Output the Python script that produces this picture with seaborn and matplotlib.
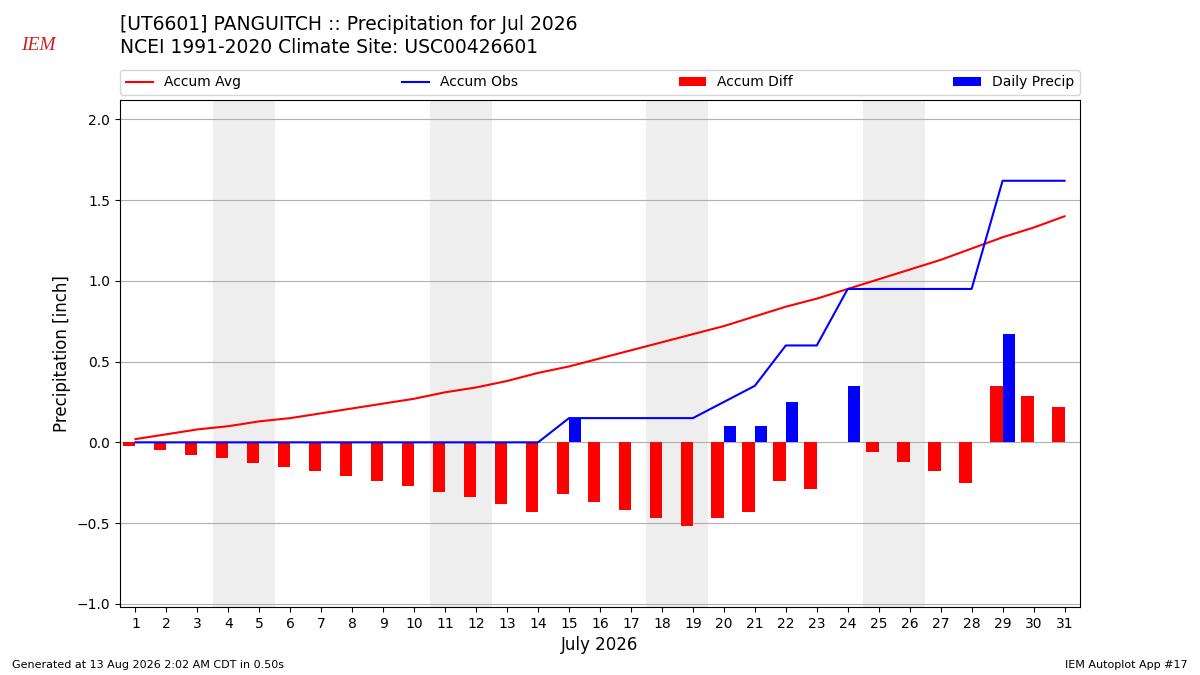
# Panguitch July 2026 precipitation chart
import numpy as np
import pandas as pd
import matplotlib
matplotlib.use("Agg")
import matplotlib.pyplot as plt
import seaborn as sns

# ==========================================
# Data
# ==========================================
days = list(range(1, 32))

accum_avg = [0.02, 0.05, 0.08, 0.10, 0.13, 0.15, 0.18, 0.21, 0.24, 0.27,
             0.31, 0.34, 0.38, 0.43, 0.47, 0.52, 0.57, 0.62, 0.67, 0.72,
             0.78, 0.84, 0.89, 0.95, 1.01, 1.07, 1.13, 1.20, 1.27, 1.33, 1.40]

accum_obs = [0.0, 0.0, 0.0, 0.0, 0.0, 0.0, 0.0, 0.0, 0.0, 0.0,
             0.0, 0.0, 0.0, 0.0, 0.15, 0.15, 0.15, 0.15, 0.15, 0.25,
             0.35, 0.60, 0.60, 0.95, 0.95, 0.95, 0.95, 0.95, 1.62, 1.62, 1.62]

accum_diff = [-0.02, -0.05, -0.08, -0.10, -0.13, -0.15, -0.18, -0.21, -0.24, -0.27,
              -0.31, -0.34, -0.38, -0.43, -0.32, -0.37, -0.42, -0.47, -0.52, -0.47,
              -0.43, -0.24, -0.29, 0.0, -0.06, -0.12, -0.18, -0.25, 0.35, 0.29, 0.22]

daily_precip = [0, 0, 0, 0, 0, 0, 0, 0, 0, 0,
                0, 0, 0, 0, 0.15, 0, 0, 0, 0, 0.10,
                0.10, 0.25, 0, 0.35, 0, 0, 0, 0, 0.67, 0, 0]

weekends = [4, 5, 11, 12, 18, 19, 25, 26]

df = pd.DataFrame({
    "day": days,
    "avg": accum_avg,
    "obs": accum_obs,
    "diff": accum_diff,
    "precip": daily_precip,
})

# ==========================================
# Figure
# ==========================================
fig = plt.figure(figsize=(12, 6.75), dpi=100)
ax = fig.add_axes([0.1, 0.1007, 0.8, 0.7511])

for d in weekends:
    ax.axvspan(d - 0.5, d + 0.5, color="#eeeeee", lw=0, zorder=0)

ax.bar(df["day"], df["diff"], width=-0.4, align="edge", color="red",
       label="Accum Diff", zorder=2)
ax.bar(df["day"], df["precip"], width=0.4, align="edge", color="blue",
       label="Daily Precip", zorder=2)

sns.lineplot(data=df, x="day", y="avg", ax=ax, color="red", lw=1.5,
             label="Accum Avg", zorder=3)
sns.lineplot(data=df, x="day", y="obs", ax=ax, color="blue", lw=1.5,
             label="Accum Obs", zorder=3)

ax.set_xlim(0.5, 31.5)
ax.set_ylim(-1.02, 2.12)
ax.set_xticks(days)
ax.set_yticks(np.arange(-1.0, 2.01, 0.5))
ax.yaxis.grid(True, color="#b0b0b0", lw=0.8, zorder=1)
ax.set_axisbelow(True)
ax.set_xlabel("July 2026", fontsize=12)
ax.set_ylabel("Precipitation [inch]", fontsize=12)

handles, labels = ax.get_legend_handles_labels()
order = ["Accum Avg", "Accum Obs", "Accum Diff", "Daily Precip"]
hmap = dict(zip(labels, handles))
ax.legend([hmap[k] for k in order], order, loc="lower left",
          bbox_to_anchor=(0, 1.01, 1, 0.05), mode="expand", ncol=4,
          borderaxespad=0, fontsize=10)

# Titles
fig.text(0.1, 0.964, "[UT6601] PANGUITCH :: Precipitation for Jul 2026",
         fontsize=13.5, va="center")
fig.text(0.1, 0.930, "NCEI 1991-2020 Climate Site: USC00426601",
         fontsize=13.5, va="center")

# Logo stand-in
fig.text(0.032, 0.933, "IEM", fontsize=14, color="#cc2222",
         family="Liberation Serif", style="italic", ha="center", va="center")

# Footer
fig.text(0.01, 0.015, "Generated at 13 Aug 2026 2:02 AM CDT in 0.50s",
         fontsize=8, va="center")
fig.text(0.99, 0.015, "IEM Autoplot App #17", fontsize=8, ha="right",
         va="center")

fig.savefig("out.png", dpi=100)
